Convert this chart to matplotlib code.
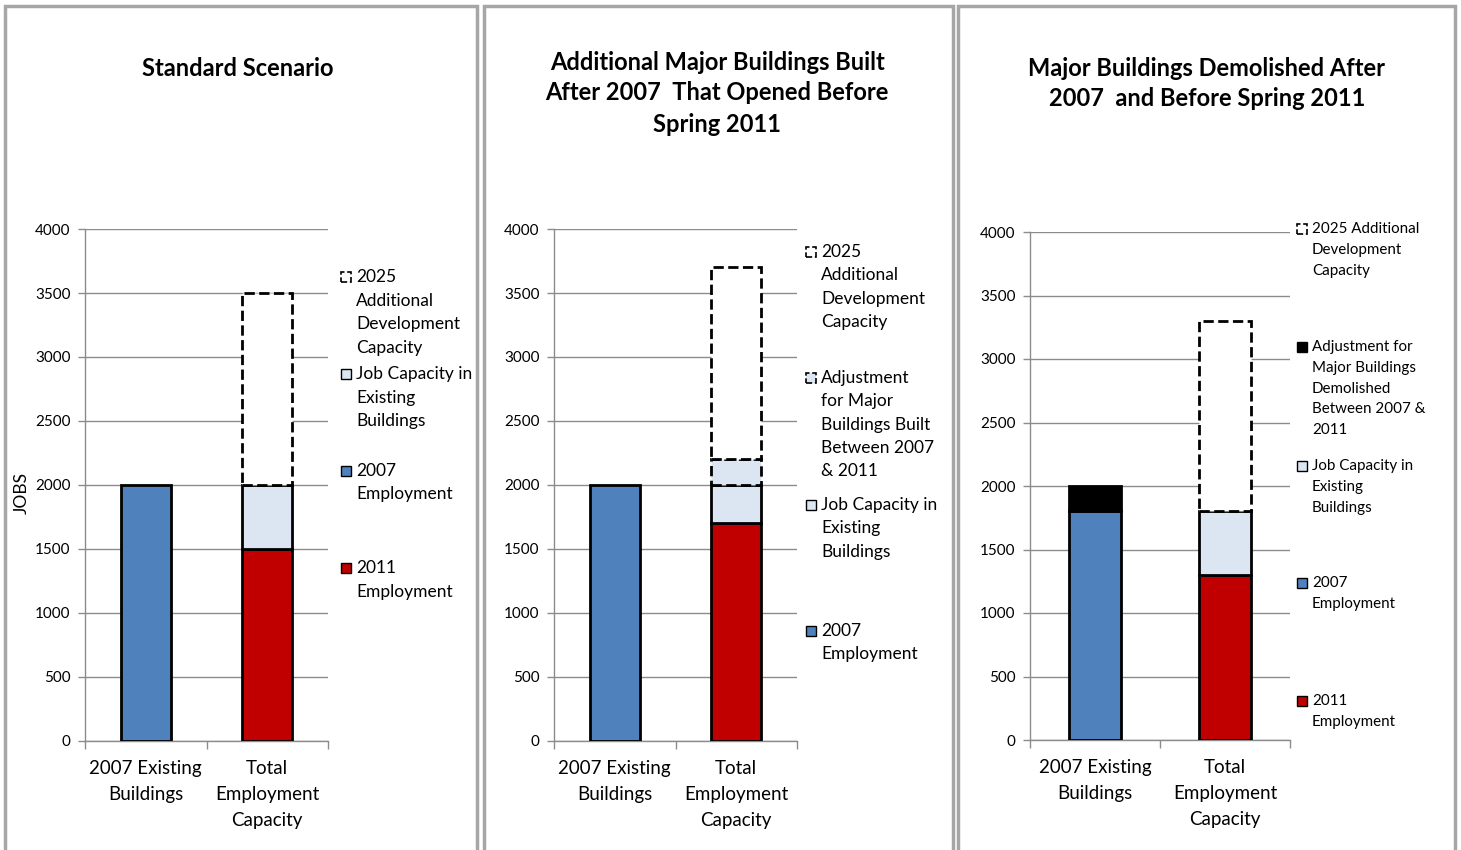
import numpy as np
import matplotlib
matplotlib.use("Agg")
import matplotlib.pyplot as plt
import matplotlib.patches as patches

plt.rcParams['font.family'] = ['Lato', 'DejaVu Sans']

W, H = 1461, 850

categories = ["2007 Existing\nBuildings", "Total\nEmployment\nCapacity"]
y_ticks = [0, 500, 1000, 1500, 2000, 2500, 3000, 3500, 4000]

# Standard Scenario
s1_emp2007 = [2000, 0]
s1_emp2011 = [0, 1500]
s1_job_cap = [0, 500]
s1_add2025 = [0, 1500]

# Additional major buildings built
s2_emp2007 = [2000, 0]
s2_emp2011 = [0, 1700]
s2_job_cap = [0, 300]
s2_adjust = [0, 200]
s2_add2025 = [0, 1500]

# Major buildings demolished
s3_emp2007 = [1800, 0]
s3_demolish = [200, 0]
s3_emp2011 = [0, 1300]
s3_job_cap = [0, 500]
s3_add2025 = [0, 1500]

BLUE = '#4f81bd'
RED = '#c00000'
LIGHT = '#dce6f2'
GRID = '#8c8c8c'

STYLE = {
    'emp2007': dict(facecolor=BLUE, edgecolor='black', linestyle='-'),
    'emp2011': dict(facecolor=RED, edgecolor='black', linestyle='-'),
    'job_cap': dict(facecolor=LIGHT, edgecolor='black', linestyle='-'),
    'adjust': dict(facecolor=LIGHT, edgecolor='black', linestyle='--'),
    'demolish': dict(facecolor='black', edgecolor='black', linestyle='-'),
    'add2025': dict(facecolor='white', edgecolor='black', linestyle='--'),
}

fig = plt.figure(figsize=(W / 100, H / 100), dpi=100)


def px_axes(left, right, bottom, top):
    return fig.add_axes([left / W, 1 - bottom / H, (right - left) / W, (bottom - top) / H])


def draw_panel(ax, stack, bar_width):
    x = np.arange(len(categories))
    bottoms = np.zeros(len(categories))
    for key, vals in stack:
        vals = np.array(vals, dtype=float)
        st = STYLE[key]
        for i in range(len(vals)):
            if vals[i] > 0:
                ax.bar(x[i], vals[i], bottom=bottoms[i], width=bar_width,
                       facecolor=st['facecolor'], edgecolor=st['edgecolor'],
                       linestyle=st['linestyle'], linewidth=2,
                       zorder=4 if st['linestyle'] == '--' else 3)
        bottoms += vals
    ax.set_xlim(-0.5, 1.5)
    ax.set_ylim(0, 4000)
    ax.set_yticks(y_ticks)
    ax.set_yticklabels([str(v) for v in y_ticks], fontsize=11)
    ax.yaxis.grid(True, color=GRID, linewidth=1)
    ax.set_axisbelow(True)
    ax.set_xticks(x)
    ax.set_xticklabels(categories, fontsize=13.5, linespacing=1.62)
    ax.set_xticks([-0.5, 0.5, 1.5], minor=True)
    ax.tick_params(axis='x', which='major', length=0, pad=14)
    ax.tick_params(axis='x', which='minor', length=6, color=GRID, width=1)
    ax.tick_params(axis='y', length=5, color=GRID, width=1, pad=5.5)
    for s in ['top', 'right']:
        ax.spines[s].set_visible(False)
    for s in ['left', 'bottom']:
        ax.spines[s].set_color(GRID)
        ax.spines[s].set_linewidth(1)


def legend_entry(key, x, y, lines, step, fontsize):
    st = STYLE[key]
    box = patches.Rectangle((x / W, 1 - (y + 5) / H), 10 / W, 10 / H,
                            transform=fig.transFigure, facecolor=st['facecolor'],
                            edgecolor='black', linestyle=st['linestyle'],
                            linewidth=1 if st['linestyle'] == '-' else 1.2)
    fig.add_artist(box)
    for k, line in enumerate(lines):
        fig.text((x + 15) / W, 1 - (y + k * step) / H, line, fontsize=fontsize,
                 ha='left', va='center')


def panel_border(left, right):
    r = patches.Rectangle((left / W, -0.05), (right - left) / W, 1.05 - 6 / H,
                          transform=fig.transFigure, facecolor='none',
                          edgecolor='#a6a6a6', linewidth=2.5)
    fig.add_artist(r)


panel_border(5, 477)
panel_border(484, 953)
panel_border(958, 1455)

# Panel 1
ax1 = px_axes(85, 328, 741, 229)
draw_panel(ax1, [('emp2007', s1_emp2007), ('emp2011', s1_emp2011),
                 ('job_cap', s1_job_cap), ('add2025', s1_add2025)], 0.41)
fig.text(22 / W, 1 - 493 / H, "JOBS", fontsize=12.5, rotation=90, ha='center', va='center')
fig.text(238 / W, 1 - 68 / H, "Standard Scenario", fontsize=17, fontweight='bold',
         ha='center', va='center')
legend_entry('add2025', 341, 277, ["2025", "Additional", "Development", "Capacity"], 23.5, 12.5)
legend_entry('job_cap', 341, 374, ["Job Capacity in", "Existing", "Buildings"], 23.5, 12.5)
legend_entry('emp2007', 341, 471, ["2007", "Employment"], 23.5, 12.5)
legend_entry('emp2011', 341, 568, ["2011", "Employment"], 23.5, 12.5)

# Panel 2
ax2 = px_axes(554, 797, 741, 229)
draw_panel(ax2, [('emp2007', s2_emp2007), ('emp2011', s2_emp2011),
                 ('job_cap', s2_job_cap), ('adjust', s2_adjust), ('add2025', s2_add2025)], 0.41)
for k, line in enumerate(["Additional Major Buildings Built",
                          "After 2007  That Opened Before",
                          "Spring 2011"]):
    fig.text(717 / W, 1 - (62 + 31 * k) / H, line, fontsize=17, fontweight='bold',
             ha='center', va='center')
legend_entry('add2025', 806, 252, ["2025", "Additional", "Development", "Capacity"], 23.5, 12.5)
legend_entry('adjust', 806, 378, ["Adjustment", "for Major", "Buildings Built",
                                  "Between 2007", "& 2011"], 23.3, 12.5)
legend_entry('job_cap', 806, 505, ["Job Capacity in", "Existing", "Buildings"], 23.3, 12.5)
legend_entry('emp2007', 806, 631, ["2007", "Employment"], 23.3, 12.5)

# Panel 3
ax3 = px_axes(1030, 1290, 740, 232)
draw_panel(ax3, [('emp2007', s3_emp2007), ('demolish', s3_demolish), ('emp2011', s3_emp2011),
                 ('job_cap', s3_job_cap), ('add2025', s3_add2025)], 0.40)
for k, line in enumerate(["Major Buildings Demolished After",
                          "2007  and Before Spring 2011"]):
    fig.text(1207 / W, 1 - (68 + 30 * k) / H, line, fontsize=17, fontweight='bold',
             ha='center', va='center')
legend_entry('add2025', 1297, 229, ["2025 Additional", "Development", "Capacity"], 20.8, 10.9)
legend_entry('demolish', 1297, 347, ["Adjustment for", "Major Buildings", "Demolished",
                                     "Between 2007 &", "2011"], 20.8, 10.9)
legend_entry('job_cap', 1297, 466, ["Job Capacity in", "Existing", "Buildings"], 20.8, 10.9)
legend_entry('emp2007', 1297, 583, ["2007", "Employment"], 20.8, 10.9)
legend_entry('emp2011', 1297, 701, ["2011", "Employment"], 20.8, 10.9)

fig.savefig('out.png', dpi=100)
